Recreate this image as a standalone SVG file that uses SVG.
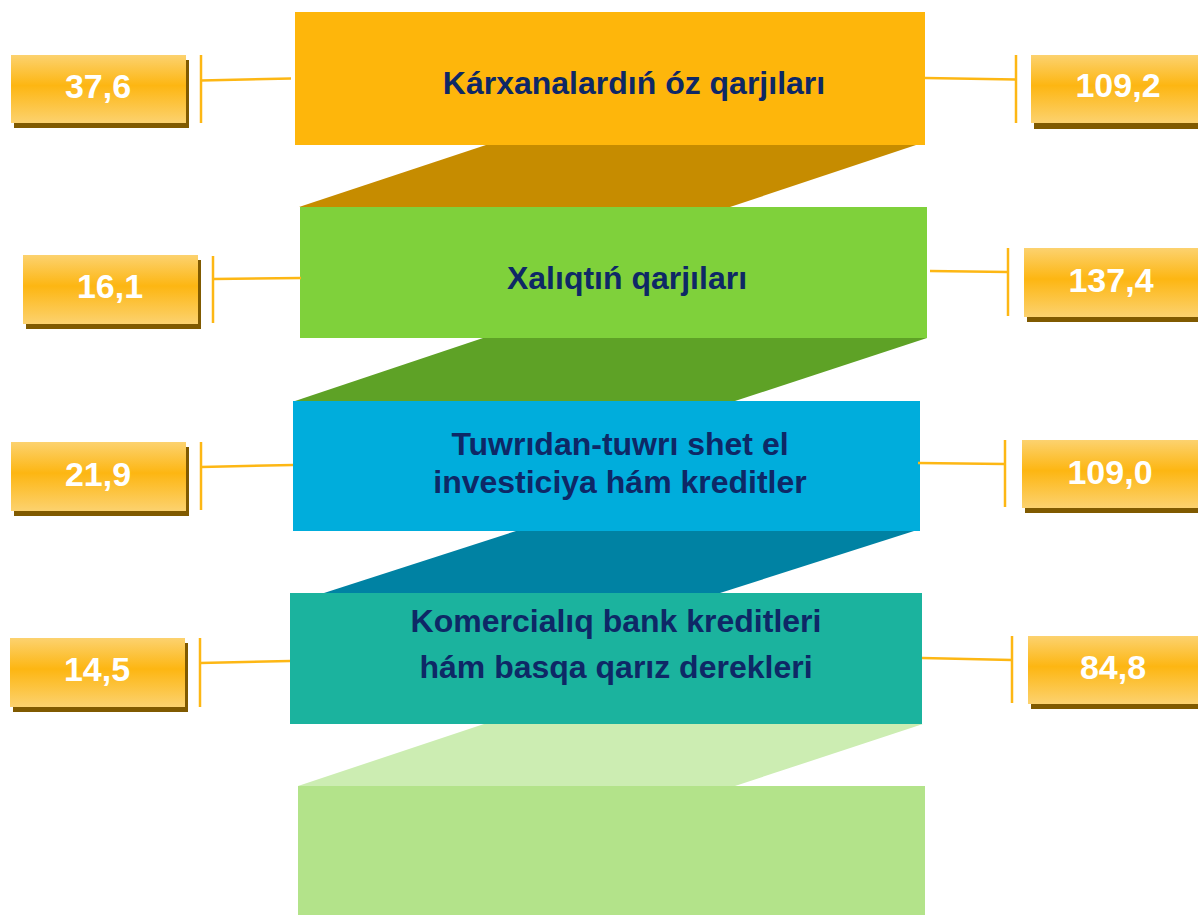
<svg xmlns="http://www.w3.org/2000/svg" width="1198" height="915" viewBox="0 0 1198 915">
<defs>
<linearGradient id="gold" x1="0" y1="0" x2="0" y2="1">
<stop offset="0" stop-color="#FCD26F"/>
<stop offset="0.45" stop-color="#FDB612"/>
<stop offset="1" stop-color="#FCD26F"/>
</linearGradient>
</defs>
<style>
.lbl{font-family:"Liberation Sans",Arial,sans-serif;font-weight:bold;font-size:32px;fill:#0E2866;text-anchor:middle}
.num{font-family:"Liberation Sans",Arial,sans-serif;font-weight:bold;font-size:34px;fill:#FFFFFF;text-anchor:middle}
.box{fill:url(#gold)}
.shd{fill:#805A00}
.ln{stroke:#FDB714;stroke-width:2.5;fill:none}
</style>
<g id="bands">
<polygon points="495,142 925,142 730,207 299,207" fill="#C68C00"/>
<polygon points="483,338 927,338 735,401 295,401" fill="#5EA226"/>
<polygon points="516,531 914,531 720,593 324,593" fill="#0082A3"/>
<polygon points="484,724 923,724 735,786 298,786" fill="#CCEDB2"/>
</g>
<g id="node1"><rect x="295" y="12" width="630" height="133" fill="#FEB60B"/><text class="lbl" x="634" y="94">Kárxanalardıń óz qarjıları</text></g>
<g id="node2"><rect x="300" y="207" width="627" height="131" fill="#7FD13B"/><text class="lbl" x="627" y="289">Xalıqtıń qarjıları</text></g>
<g id="node3"><rect x="293" y="401" width="627" height="130" fill="#00ADDC"/><text class="lbl" x="620" y="455">Tuwrıdan-tuwrı shet el</text><text class="lbl" x="620" y="493">investiciya hám kreditler</text></g>
<g id="node4"><rect x="290" y="593" width="632" height="131" fill="#1BB39E"/><text class="lbl" x="616" y="632">Komercialıq bank kreditleri</text><text class="lbl" x="616" y="678">hám basqa qarız derekleri</text></g>
<g id="node5"><rect x="298" y="786" width="627" height="129" fill="#B3E38A"/></g>
<g id="connectors">
<line class="ln" x1="201" y1="55" x2="201" y2="123"/><line class="ln" x1="201" y1="80.5" x2="291" y2="78.5"/>
<line class="ln" x1="1016" y1="55" x2="1016" y2="123"/><line class="ln" x1="925" y1="78" x2="1016" y2="79.5"/>
<line class="ln" x1="213" y1="256" x2="213" y2="323"/><line class="ln" x1="213" y1="279" x2="301" y2="278"/>
<line class="ln" x1="1008" y1="248" x2="1008" y2="316"/><line class="ln" x1="930" y1="271" x2="1008" y2="272"/>
<line class="ln" x1="201" y1="442" x2="201" y2="510"/><line class="ln" x1="201" y1="467" x2="293" y2="465"/>
<line class="ln" x1="1005" y1="440" x2="1005" y2="507"/><line class="ln" x1="918" y1="463" x2="1005" y2="464"/>
<line class="ln" x1="200" y1="638" x2="200" y2="707"/><line class="ln" x1="200" y1="663" x2="290" y2="661"/>
<line class="ln" x1="1012" y1="636" x2="1012" y2="703"/><line class="ln" x1="922" y1="658" x2="1012" y2="660"/>
</g>
<g id="v1"><rect class="shd" x="14" y="60" width="175" height="68"/><rect class="box" x="11" y="55" width="175" height="68"/><text class="num" x="98" y="98">37,6</text></g>
<g id="v2"><rect class="shd" x="1034" y="60" width="164" height="69"/><rect class="box" x="1031" y="55" width="167" height="68"/><text class="num" x="1118" y="97">109,2</text></g>
<g id="v3"><rect class="shd" x="26" y="260" width="175" height="69"/><rect class="box" x="23" y="255" width="175" height="69"/><text class="num" x="110" y="298">16,1</text></g>
<g id="v4"><rect class="shd" x="1027" y="253" width="171" height="69"/><rect class="box" x="1024" y="248" width="174" height="69"/><text class="num" x="1111" y="292">137,4</text></g>
<g id="v5"><rect class="shd" x="14" y="447" width="175" height="69"/><rect class="box" x="11" y="442" width="175" height="69"/><text class="num" x="98" y="486">21,9</text></g>
<g id="v6"><rect class="shd" x="1025" y="445" width="173" height="68"/><rect class="box" x="1022" y="440" width="176" height="68"/><text class="num" x="1110" y="484">109,0</text></g>
<g id="v7"><rect class="shd" x="13" y="643" width="175" height="69"/><rect class="box" x="10" y="638" width="175" height="69"/><text class="num" x="97" y="681">14,5</text></g>
<g id="v8"><rect class="shd" x="1031" y="641" width="167" height="68"/><rect class="box" x="1028" y="636" width="170" height="68"/><text class="num" x="1113" y="679">84,8</text></g>
</svg>
